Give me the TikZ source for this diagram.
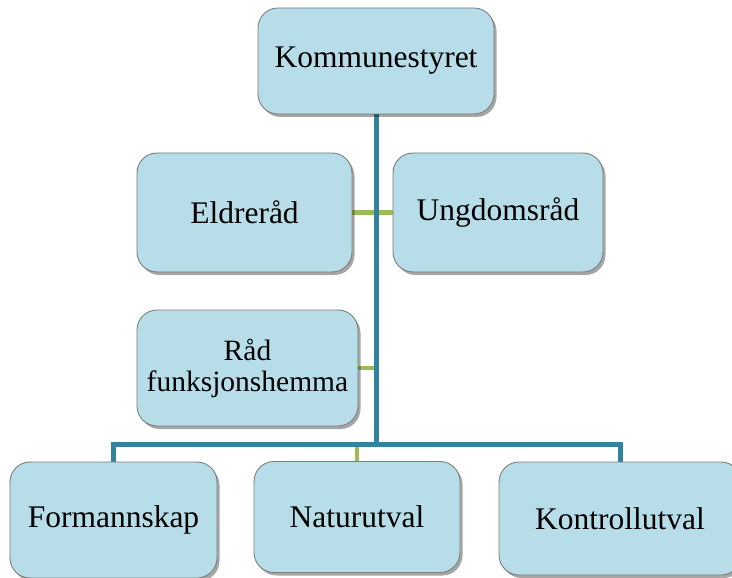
\documentclass[tikz,border=0pt]{standalone}
\usepackage{fontspec}
\setmainfont{Liberation Serif}
\usetikzlibrary{shadows,backgrounds}
\definecolor{boxfill}{RGB}{183,221,232}
\definecolor{boxline}{RGB}{125,125,125}
\definecolor{trunk}{RGB}{49,132,155}
\definecolor{branch}{RGB}{155,187,89}
\tikzset{
  orgbox/.style={draw=boxline, line width=0.9pt, fill=boxfill, rounded corners=20pt,
    drop shadow={shadow xshift=2.5pt, shadow yshift=-3pt, fill=black, opacity=0.35},
    font=\fontsize{31.5}{34}\selectfont, align=center, inner sep=0pt},
  trunkline/.style={draw=trunk, line width=5pt},
  branchline/.style={draw=branch, line width=4.5pt}
}
\begin{document}
\begin{tikzpicture}[x=1pt,y=-1pt]
\useasboundingbox (0,0) rectangle (732,578);
\clip (0,0) rectangle (732,578);
\node[orgbox, minimum width=236pt, minimum height=106pt] (K) at (376,61) {Kommunestyret};
\node[orgbox, minimum width=215pt, minimum height=119pt] (E) at (244.5,212.5) {Eldreråd};
\node[orgbox, minimum width=210pt, minimum height=119pt] (U) at (498,212.5) {Ungdomsråd};
\node[orgbox, minimum width=221pt, minimum height=116pt, font=\fontsize{29.5}{31}\selectfont] (R) at (247.5,368) {Råd\\funksjonshemma};
\node[orgbox, minimum width=207pt, minimum height=116pt] (F) at (113.5,520) {Formannskap};
\node[orgbox, minimum width=206pt, minimum height=111pt] (N) at (357,517) {Naturutval};
\node[orgbox, minimum width=242pt, minimum height=113pt] (Ko) at (620,518.5) {Kontrollutval};
\coordinate (bar) at (376,444);
\begin{scope}[on background layer]
\draw[branchline] (E.east) -- (U.west);
\draw[branchline] (R.east) -- (R.east -| bar);
\draw[branchline] (N.north) -- (N.north |- bar);
\draw[trunkline] (K.south) -- (bar);
\draw[trunkline] (F.north) -- (F.north |- bar) -- (Ko.north |- bar) -- (Ko.north);
\end{scope}
\end{tikzpicture}
\end{document}
